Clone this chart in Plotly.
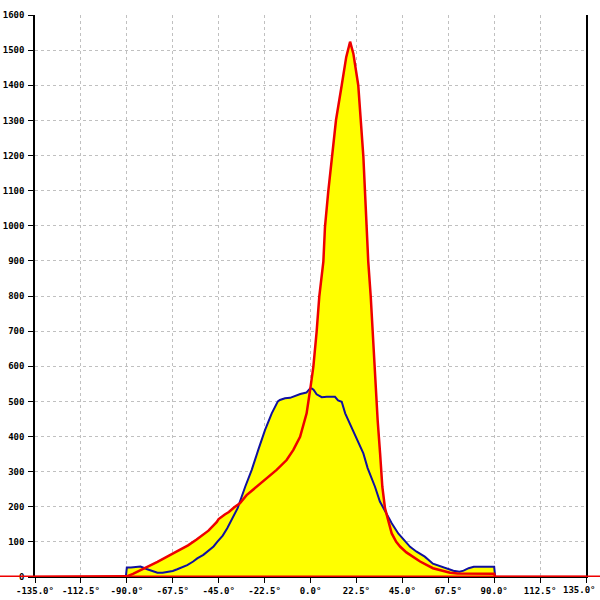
import plotly.graph_objects as go

# ---- data ----
red_deg = [-135, -90.5, -90, -87, -82, -75, -67.3, -60, -55.8, -50, -46, -45, -42, -40, -37.5,
           -34.6, -31.3, -26.4, -21.5, -16.6, -11.7, -8.4, -5.1, -1.9, 0, 1.4, 3.0, 4.3, 6.3,
           7.1, 8.7, 10.4, 12.5, 15.3, 17.5, 19.4, 21, 23.4, 24.6, 25.9, 26.7, 27.5, 28.3,
           29.5, 30.5, 31.1, 32.1, 32.9, 34.1, 35.2, 36.5, 38.1, 39.8, 42, 44, 47, 50.4,
           53.7, 60, 65, 68.4, 72, 78, 85, 90, 90.5, 135]
red_val = [0, 0, 2, 9, 23, 43, 67, 90, 107, 132, 156, 165, 178, 185, 198,
           210, 233, 257, 281, 305, 333, 362, 399, 466, 540, 599, 698, 798, 898,
           997, 1097, 1197, 1301, 1400, 1480, 1524, 1490, 1400, 1301, 1197, 1097, 997, 898,
           800, 698, 599, 499, 447, 352, 257, 196, 162, 124, 100, 86, 70, 58,
           44, 25, 17, 12, 10, 9, 9, 9, 0, 0]

blue_deg = [-90.5, -90, -88, -85, -83.3, -80, -77.5, -75, -72.5, -70, -67.5, -65.3, -62.5, -60.4,
            -57.5, -55.5, -52.5, -50.6, -47.5, -45.7, -43, -40.8, -38.6, -35.7, -32, -28.8,
            -25.6, -22.3, -19, -16, -15, -12.5, -10, -7.5, -5, -2, -0.2, 0.6, 1.5, 3, 5.5,
            8, 12, 13.5, 15.3, 17, 18.5, 21, 25.9, 28, 31.6, 34, 35.7, 39.8, 43, 45, 48.8,
            52, 56, 60, 65, 68.4, 70, 73, 75, 77.5, 80, 85, 90, 90.5]
blue_val = [0, 27, 27, 28, 30, 22, 16, 12, 12, 14, 17, 22, 28, 34,
            44, 53, 63, 72, 87, 100, 118, 139, 162, 196, 257, 305,
            362, 418, 466, 500, 504, 509, 510, 516, 521, 525, 537, 537, 533, 520, 512,
            513, 513, 503, 499, 466, 447, 418, 352, 310, 257, 215, 196, 153, 124, 110, 86,
            72, 58, 38, 27, 20, 18, 15, 18, 25, 29, 29, 29, 0]

x_ticks = [-135, -112.5, -90, -67.5, -45, -22.5, 0, 22.5, 45, 67.5, 90, 112.5, 135]
x_tick_text = ["%.1f°" % v for v in x_ticks]
y_ticks = list(range(0, 1601, 100))

fig = go.Figure()
fill_col = "#ffff00"
fig.add_trace(go.Scatter(x=blue_deg, y=blue_val, mode="lines", fill="tozeroy",
                         fillcolor=fill_col, line=dict(width=0), hoverinfo="skip"))
fig.add_trace(go.Scatter(x=red_deg, y=red_val, mode="lines", fill="tozeroy",
                         fillcolor=fill_col, line=dict(width=0), hoverinfo="skip"))
fig.add_trace(go.Scatter(x=blue_deg, y=blue_val, mode="lines",
                         line=dict(color="#1010a0", width=2)))
fig.add_trace(go.Scatter(x=red_deg, y=red_val, mode="lines",
                         line=dict(color="#ee0000", width=2.5)))

# red baseline extending across the whole picture
fig.add_shape(type="line", xref="paper", yref="y", x0=-35/551, x1=1+14/551, y0=0, y1=0,
              line=dict(color="#ee0000", width=3), layer="above")

tick_font = dict(family="DejaVu Sans Mono", size=9, color="black", weight="bold")
grid = dict(showgrid=True, gridcolor="#c0c0c0", griddash="3px,3px", gridwidth=1)

# the last x tick label sits at the picture edge; plotly drops it, so draw it as text
fig.add_annotation(x=x_ticks[-1], xref="x", y=0, yref="paper", yanchor="top",
                   text=x_tick_text[-1], showarrow=False, font=tick_font, yshift=-6,
                   xanchor="right", xshift=12)

fig.update_layout(
    width=600, height=600,
    margin=dict(l=35, r=14, t=15, b=23, autoexpand=False),
    paper_bgcolor="white", plot_bgcolor="white",
    showlegend=False,
    xaxis=dict(range=[-135, 135], tickmode="array", tickvals=x_ticks, ticktext=x_tick_text,
               ticks="outside", ticklen=5, tickcolor="black", tickfont=tick_font,
               automargin=False,
               showline=True, linecolor="black", linewidth=1, zeroline=False, **grid),
    yaxis=dict(range=[0, 1600], tickmode="array", tickvals=y_ticks,
               ticks="outside", ticklen=5, tickcolor="black", tickfont=tick_font,
               automargin=False, ticklabelstandoff=2,
               showline=True, linecolor="black", linewidth=1.5, mirror=True,
               zeroline=False, **grid),
)

fig.write_html("out.html", config={"displayModeBar": False},
               post_script="document.body.style.margin='0';document.body.style.overflow='hidden';")
